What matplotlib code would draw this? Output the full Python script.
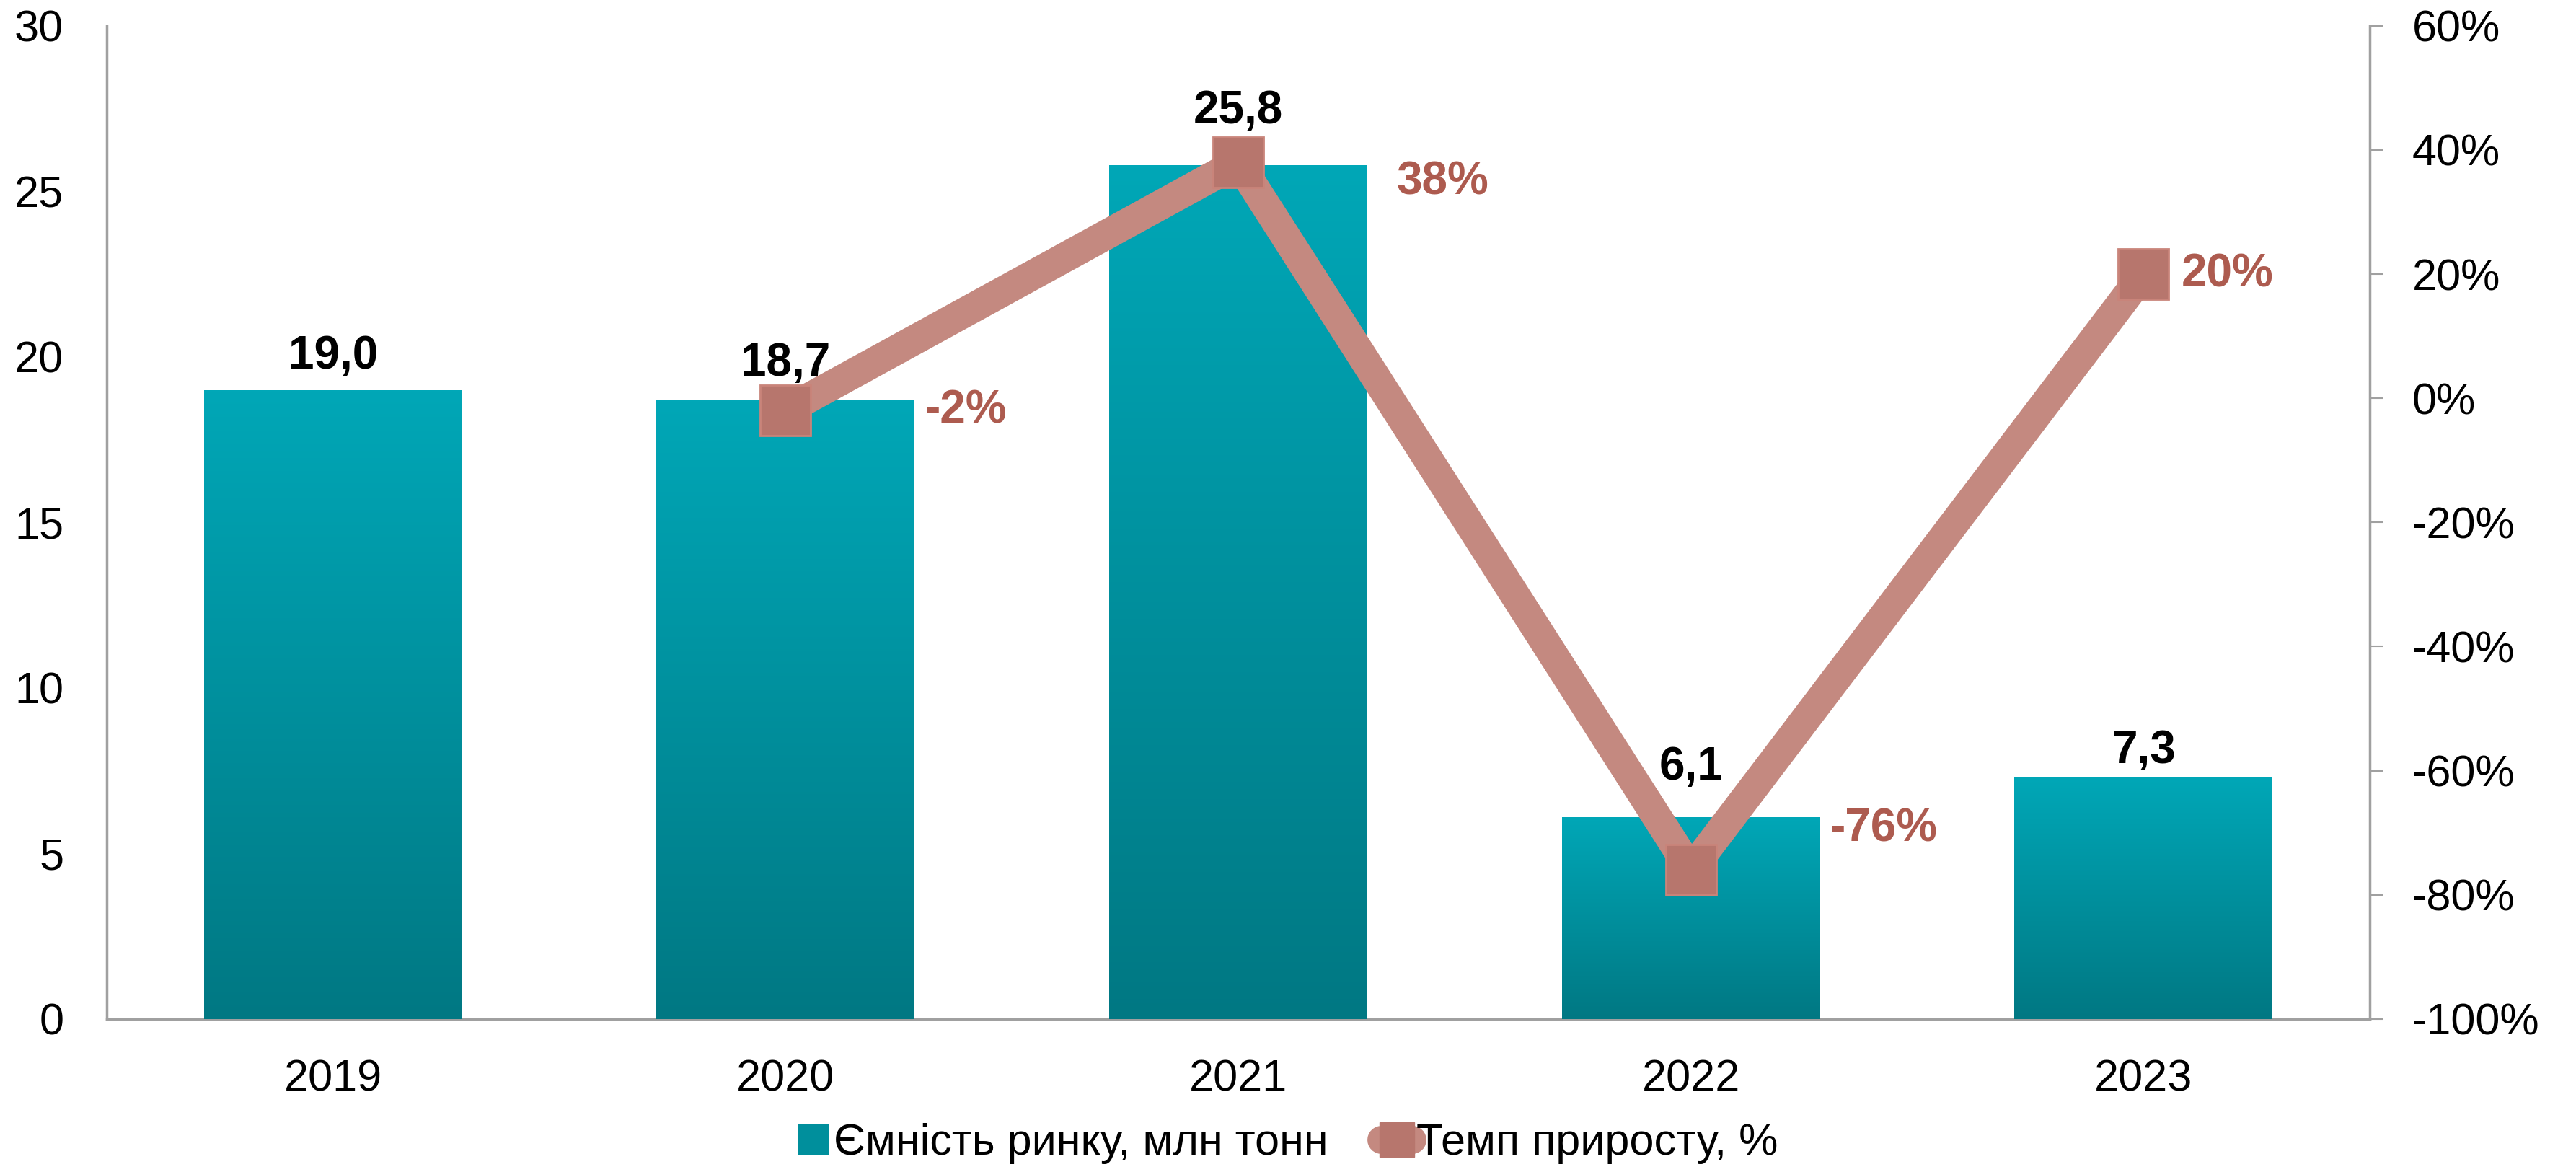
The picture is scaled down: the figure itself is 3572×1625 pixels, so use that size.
import numpy as np
import matplotlib.pyplot as plt
from matplotlib.colors import LinearSegmentedColormap
from matplotlib.lines import Line2D
from matplotlib.patches import Patch

plt.rcParams['font.family'] = ['Liberation Sans', 'DejaVu Sans']

years = ["2019", "2020", "2021", "2022", "2023"]
capacity = [19.0, 18.7, 25.8, 6.1, 7.3]
growth_years = ["2020", "2021", "2022", "2023"]
growth = [-0.02, 0.38, -0.76, 0.20]
growth_labels = ["-2%", "38%", "-76%", "20%"]
# label offsets (points) relative to each marker / bar top
growth_offsets = [(139, 0), (158, -20), (139, 41), (38, 0)]
bar_label_offsets = [12, 15, 32, 28, 5]
right_ticks = [-1.0, -0.8, -0.6, -0.4, -0.2, 0.0, 0.2, 0.4, 0.6]
right_labels = ["-100%", "-80%", "-60%", "-40%", "-20%", "0%", "20%", "40%", "60%"]

teal_top, teal_bot = "#00A7B7", "#007883"
line_col = "#C48980"
mark_col = "#B7766D"
lab_col = "#AD5B4F"
grey = "#A0A0A0"

fig = plt.figure(figsize=(35.73, 16.25), dpi=100)
ax = fig.add_axes([0.0414, 0.1305, 0.8783, 0.8475])
ax2 = ax.twinx()

x = np.arange(len(years))
bars = ax.bar(x, capacity, width=0.57, color=teal_top, zorder=2)
cmap = LinearSegmentedColormap.from_list("teal", [teal_bot, teal_top])
grad = np.linspace(0, 1, 256).reshape(-1, 1)
for b, dy in zip(bars, bar_label_offsets):
    x0, w, h = b.get_x(), b.get_width(), b.get_height()
    im = ax.imshow(grad, cmap=cmap, origin="lower", aspect="auto",
                   extent=(x0, x0 + w, 0, h), zorder=3)
    im.set_clip_path(b)
    ax.annotate(f"{h:.1f}".replace(".", ","), (x0 + w / 2, h),
                xytext=(0, dy), textcoords="offset points",
                ha="center", va="bottom", fontsize=46, fontweight="bold",
                zorder=4)

ax.set_xlim(-0.5, len(years) - 0.5)
ax.set_ylim(0, 30)
ax.set_yticks(range(0, 31, 5))
ax.set_xticks(x, years)
ax.tick_params(axis="y", length=0, labelsize=44, pad=43)
ax.tick_params(axis="x", length=0, labelsize=44, pad=40)

gx = [years.index(y) for y in growth_years]
ax2.plot(gx, growth, color=line_col, lw=30, zorder=5,
         solid_joinstyle="miter")
ax2.plot(gx, growth, ls="none", marker="s", ms=50, mfc=mark_col,
         mec="#C9847A", mew=2, zorder=6)
for xi, yi, txt, off in zip(gx, growth, growth_labels, growth_offsets):
    ax2.annotate(txt, (xi, yi), xytext=off, textcoords="offset points",
                 ha="left", va="center", fontsize=46, fontweight="bold",
                 color=lab_col, zorder=7)
ax2.set_ylim(-1.0, 0.6)
ax2.set_yticks(right_ticks, right_labels)
ax2.tick_params(axis="y", length=14, width=1.5, color=grey,
                labelsize=44, pad=28)

for a in (ax, ax2):
    a.spines["top"].set_visible(False)
    for s in ("left", "right", "bottom"):
        a.spines[s].set_color(grey)
        a.spines[s].set_linewidth(2.5)
ax.spines["right"].set_visible(False)
ax2.spines["left"].set_visible(False)
ax2.spines["bottom"].set_visible(False)

handles = [Patch(facecolor="#008F9C", edgecolor="none"),
           Line2D([], [], color=line_col, lw=28, marker="s", ms=34,
                  mfc=mark_col, mec=mark_col, solid_capstyle="round")]
fig.legend(handles, ["Ємність ринку, млн тонн", "Темп приросту, %"],
           loc="center", bbox_to_anchor=(0.5, 0.024), ncol=2, frameon=False,
           fontsize=44, handlelength=0.7, handletextpad=0.1,
           columnspacing=1.2)

fig.savefig("out.png", dpi=100)
